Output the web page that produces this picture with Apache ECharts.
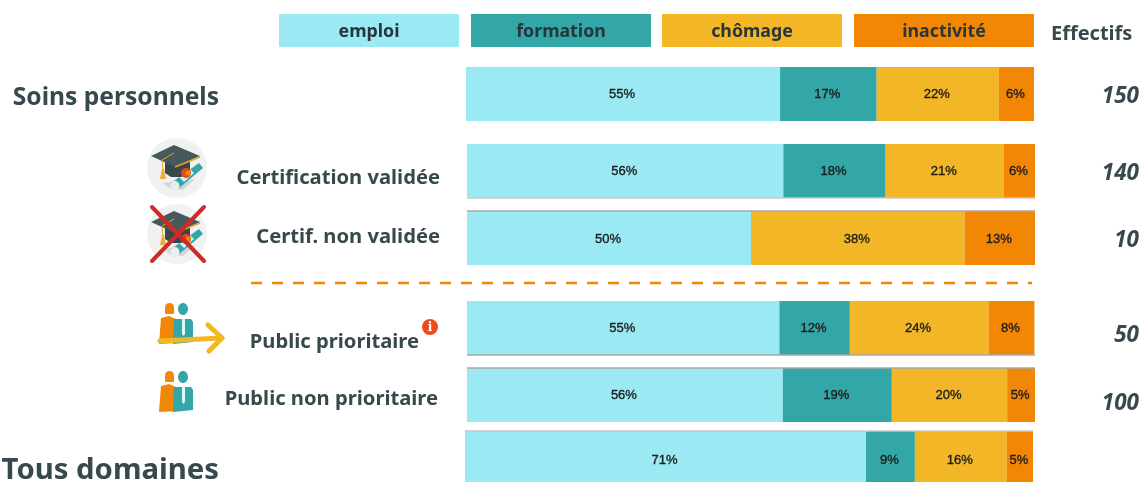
<!DOCTYPE html>
<html lang="fr">
<head>
<meta charset="utf-8">
<title>Situation des sortants</title>
<script src="https://cdn.jsdelivr.net/npm/echarts@6/dist/echarts.min.js"></script>
<style>
  html, body { margin: 0; padding: 0; background: #fff; }
  #chart { width: 1142px; height: 482px; }
</style>
</head>
<body>
<div id="chart"></div>
<script>
// Donnees (en %)
const rowNames = ['Soins personnels', 'Certification validée', 'Certif. non validée', 'Public prioritaire', 'Public non prioritaire', 'Tous domaines']
const statusNames = ['emploi', 'formation', 'chômage', 'inactivité']
const emploi = [55.3, 55.7, 50, 55, 55.6, 70.6]
const formation = [17, 18, null, 12.4, 19.2, 8.6]
const chomage = [21.5, 20.8, 37.6, 24.4, 20.3, 16.2]
const inactivite = [6.2, 5.5, 12.6, 8.1, 4.9, 4.6]
const effectifs = ['150', '140', '10', '50', '100', '']

const statusValues = [emploi, formation, chomage, inactivite]
const statusColors = ['#9ae9f3', '#33a6a8', '#f2b626', '#f28705']
const TEXT_DARK = '#37494c'
const FONT = '"Noto Sans", sans-serif'

// Position de chaque barre : [gauche, droite, haut, bas]
const rowBoxes = [
  [466, 1034, 67, 121],
  [467, 1035, 144, 198],
  [467, 1035, 211, 265],
  [467, 1035, 301, 355],
  [467, 1035, 368, 422],
  [465, 1033, 431, 487]
]
const effectifY = [97, 174, 241, 336, 404, 0]
const labelShift = [0, 0, 1, 0, 0, 4]
// Libelles : [x droite, y centre, taille]
const rowLabels = [
  [219, 98, 24.6],
  [440, 178, 20.2],
  [440, 237, 20.2],
  [419, 342, 20.2],
  [438, 399, 20.2],
  [219, 471, 29.3]
]
// Filets gris au bord de certaines barres : [ligne, y, couleur]
const edgeLines = [
  [1, 198, '#c8c8c8'],
  [2, 211, '#a9a9a9'],
  [3, 355, '#a9a9a9'],
  [4, 368, '#a9a9a9'],
  [5, 431, '#c8c8c8']
]

const text = (x, y, value, fontSize, align, extra) => ({
  type: 'text',
  x,
  y,
  silent: true,
  style: Object.assign({
    text: value,
    fontSize,
    fontFamily: FONT,
    fontWeight: 700,
    fill: TEXT_DARK,
    align,
    verticalAlign: 'middle'
  }, extra || {})
})

// Icone diplome + toque
const capIcon = (cx, cy) => ({
  type: 'group',
  x: cx,
  y: cy,
  silent: true,
  children: [
    { type: 'circle', shape: { cx: 0, cy: 0, r: 30 }, style: { fill: '#f1f1f1' } },
    { type: 'polygon', shape: { points: [[-14, 15], [18, 11], [6, 22], [-6, 21]] }, style: { fill: '#d3d6d8' } },
    { type: 'polygon', shape: { points: [[-6, 15], [22, -5], [26, 0], [1, 21]] }, style: { fill: '#33a6a8' } },
    { type: 'polygon', shape: { points: [[2, 9], [13, 1], [17, 5], [7, 14]] }, style: { fill: '#dfeef0' } },
    { type: 'ellipse', shape: { cx: -2, cy: 18, rx: 4.5, ry: 5 }, style: { fill: '#e8eef0' } },
    { type: 'polygon', shape: { points: [[-12, -6], [13, -6], [13, 5], [4, 9], [-6, 9], [-12, 5]] }, style: { fill: '#38474a' } },
    { type: 'polygon', shape: { points: [[-26, -12], [-3, -23], [23, -12], [-2, -1]] }, style: { fill: '#46595c' } },
    { type: 'line', shape: { x1: -2, y1: -1, x2: 23, y2: -11 }, style: { stroke: '#e2a826', lineWidth: 1.5 } },
    { type: 'line', shape: { x1: -3, y1: -15, x2: -15, y2: -8 }, style: { stroke: '#e2a826', lineWidth: 1 } },
    { type: 'line', shape: { x1: -15, y1: -8, x2: -14, y2: 2 }, style: { stroke: '#e2a826', lineWidth: 1 } },
    { type: 'polygon', shape: { points: [[-15, 1], [-13, 1], [-11, 11], [-17, 11]] }, style: { fill: '#f2a93a' } },
    { type: 'circle', shape: { cx: 9, cy: 5, r: 5 }, style: { fill: '#e2491c' } },
    { type: 'circle', shape: { cx: 11, cy: 5, r: 2.5 }, style: { fill: '#f28705' } }
  ]
})

// Icone deux personnes
const peopleIcon = (x, y) => ({
  type: 'group',
  x,
  y,
  silent: true,
  children: [
    { type: 'rect', shape: { x: 6, y: 0, width: 9, height: 11, r: [5, 5, 1, 1] }, style: { fill: '#f28705' } },
    { type: 'polygon', shape: { points: [[2, 15], [10, 13], [17, 16], [20, 40], [0, 41]] }, style: { fill: '#f28705' } },
    { type: 'ellipse', shape: { cx: 24, cy: 6, rx: 5, ry: 6 }, style: { fill: '#33a6a8' } },
    { type: 'polygon', shape: { points: [[15, 16], [32, 16], [34, 19], [34, 39], [14, 41]] }, style: { fill: '#33a6a8' } },
    { type: 'polygon', shape: { points: [[23, 16], [26, 16], [26, 31], [24.5, 33], [23, 31]] }, style: { fill: '#e4f7f7' } }
  ]
})

const redCross = (x1, y1, x2, y2) => [0, 1].map(i => ({
  type: 'line',
  silent: true,
  shape: i === 0 ? { x1, y1, x2, y2 } : { x1: x2, y1, x2: x1, y2 },
  style: { stroke: '#cf2a2a', lineWidth: 4, lineCap: 'round' }
}))

const legendBoxes = [[279, 459], [471, 651], [662, 842], [854, 1034]]

const graphics = [
  ...legendBoxes.flatMap((b, i) => [
    { type: 'rect', silent: true, shape: { x: b[0], y: 14, width: b[1] - b[0], height: 33 }, style: { fill: statusColors[i] } },
    text((b[0] + b[1]) / 2, 32, statusNames[i], 17.8, 'center', { fill: '#26363a' })
  ]),
  text(1051, 34, 'Effectifs', 20, 'left'),
  ...rowNames.map((n, i) => text(rowLabels[i][0], rowLabels[i][1], n, rowLabels[i][2], 'right')),
  ...effectifs.map((v, i) => text(1139, effectifY[i], v, 22.5, 'right', { fontStyle: 'italic' })),
  capIcon(177, 168),
  capIcon(177, 234),
  ...redCross(152, 207, 204, 261),
  { type: 'line', silent: true, shape: { x1: 251, y1: 283, x2: 1032, y2: 283 }, style: { stroke: '#f28705', lineWidth: 2.5, lineDash: [11, 10] } },
  peopleIcon(159, 303),
  { type: 'line', silent: true, shape: { x1: 160, y1: 341, x2: 222, y2: 338 }, style: { stroke: '#f2b626', lineWidth: 5, lineCap: 'round' } },
  { type: 'polyline', silent: true, shape: { points: [[208, 325], [222, 338], [209, 351]] }, style: { stroke: '#f2b626', lineWidth: 5, lineCap: 'round', lineJoin: 'round', fill: 'none' } },
  peopleIcon(159, 371),
  { type: 'circle', silent: true, shape: { cx: 430, cy: 327, r: 8 }, style: { fill: '#ee4b1f' } },
  text(430, 327.5, 'i', 12, 'center', { fill: '#fff', fontFamily: '"DejaVu Serif", serif' }),
  ...edgeLines.map(e => ({
    type: 'line',
    silent: true,
    z: 10,
    shape: { x1: rowBoxes[e[0]][0], y1: e[1], x2: rowBoxes[e[0]][1], y2: e[1] },
    style: { stroke: e[2], lineWidth: 1.5 }
  }))
]

const grids = rowBoxes.map(b => ({ left: b[0], top: b[2], width: b[1] - b[0], height: b[3] - b[2] }))

const xAxes = rowBoxes.map((_, i) => ({ type: 'value', gridIndex: i, min: 0, max: 100, show: false }))
const yAxes = rowBoxes.map((_, i) => ({ type: 'category', gridIndex: i, data: [rowNames[i]], show: false }))

const series = rowNames.flatMap((_, row) => statusNames.map((name, s) => ({
  name,
  type: 'bar',
  stack: 'row' + row,
  xAxisIndex: row,
  yAxisIndex: row,
  barWidth: '100%',
  silent: true,
  data: [statusValues[s][row]],
  itemStyle: { color: statusColors[s] },
  label: {
    show: statusValues[s][row] != null,
    position: 'inside',
    offset: [-1, labelShift[row]],
    formatter: p => Math.round(p.value) + '%',
    fontFamily: '"Liberation Sans", Arial, sans-serif',
    fontSize: 13,
    fontWeight: 400,
    color: '#1c1c1c',
    textBorderColor: '#1c1c1c',
    textBorderWidth: 0.35
  }
})))

const chart = echarts.init(document.getElementById('chart'), null, { renderer: 'canvas' })
chart.setOption({
  animation: false,
  backgroundColor: '#fff',
  grid: grids,
  xAxis: xAxes,
  yAxis: yAxes,
  series,
  graphic: graphics
})
</script>
</body>
</html>
